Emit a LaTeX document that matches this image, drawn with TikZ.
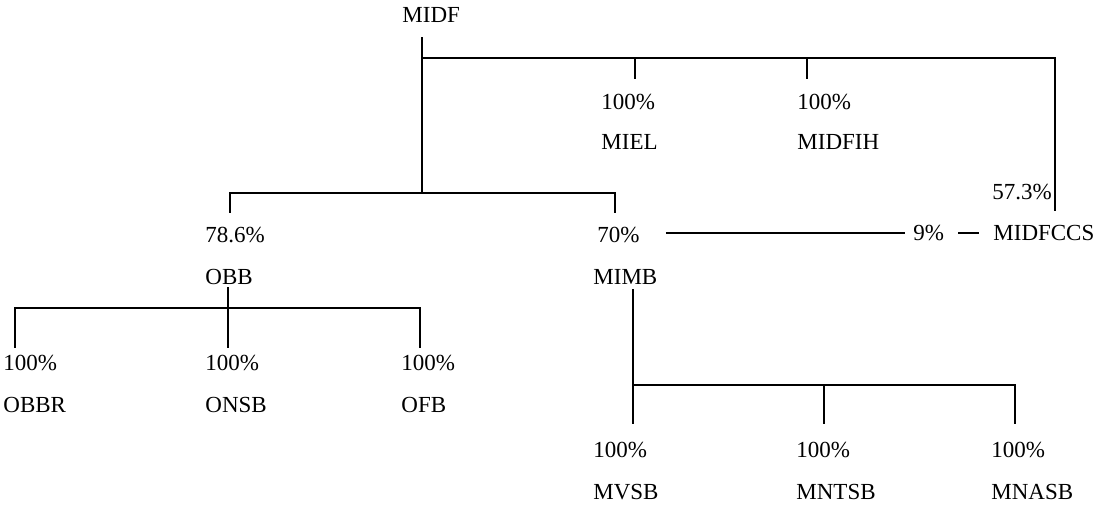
\documentclass[tikz,border=0pt]{standalone}
\usepackage{fontspec}
\setmainfont{Liberation Serif}
\usepackage{tikz}

\begin{document}
\begin{tikzpicture}[
  x=0.5pt, y=-0.5pt,
  lab/.style={inner sep=0pt, anchor=west, font=\fontsize{11.5}{13}\selectfont},
  tree/.style={line width=1.25pt, line cap=rect},
  cross/.style={line width=1.1pt}
]
  \useasboundingbox (0,0) rectangle (1104,505);

  % Holding company and first level
  \node[lab] (midf)   at (402,15)  {MIDF};
  \node[lab] (p-miel) at (601,102) {100\%};
  \node[lab] (miel)   at (601,142) {MIEL};
  \node[lab] (p-fih)  at (797,102) {100\%};
  \node[lab] (fih)    at (797,142) {MIDFIH};
  \node[lab] (p-ccs)  at (992,192) {57.3\%};
  \node[lab] (ccs)    at (993,233) {MIDFCCS};
  \node[lab] (p-x)    at (913,233) {9\%};

  % Banks
  \node[lab] (p-obb)  at (205,235) {78.6\%};
  \node[lab] (obb)    at (205,277) {OBB};
  \node[lab] (p-mimb) at (597,235) {70\%};
  \node[lab] (mimb)   at (593,277) {MIMB};

  % OBB subsidiaries
  \node[lab] (p-obbr) at (3,363)   {100\%};
  \node[lab] (obbr)   at (3,405)   {OBBR};
  \node[lab] (p-onsb) at (205,363) {100\%};
  \node[lab] (onsb)   at (205,405) {ONSB};
  \node[lab] (p-ofb)  at (401,363) {100\%};
  \node[lab] (ofb)    at (401,405) {OFB};

  % MIMB subsidiaries
  \node[lab] (p-mvsb)  at (593,450) {100\%};
  \node[lab] (mvsb)    at (593,492) {MVSB};
  \node[lab] (p-mntsb) at (796,450) {100\%};
  \node[lab] (mntsb)   at (796,492) {MNTSB};
  \node[lab] (p-mnasb) at (991,450) {100\%};
  \node[lab] (mnasb)   at (991,492) {MNASB};

  % Junction points
  \coordinate (midf-a) at (422,38);
  \coordinate (bar1-l) at (422,58);
  \coordinate (bar1-r) at (1055,58);
  \coordinate (ccs-a)  at (1055,210);
  \coordinate (miel-a) at (635,78);
  \coordinate (fih-a)  at (807,78);
  \coordinate (bar2-m) at (422,193);
  \coordinate (obb-a)  at (230,212);
  \coordinate (mimb-a) at (615,212);
  \coordinate (obb-b)  at (228,288);
  \coordinate (bar3-m) at (228,308);
  \coordinate (obbr-a) at (15,347);
  \coordinate (onsb-a) at (228,347);
  \coordinate (ofb-a)  at (420,347);
  \coordinate (mimb-b) at (633,290);
  \coordinate (bar4-l) at (633,385);
  \coordinate (mvsb-a) at (633,423);
  \coordinate (mntsb-a) at (824,423);
  \coordinate (mnasb-a) at (1015,423);

  % MIDF tree
  \draw[tree] (midf-a) -- (bar2-m);
  \draw[tree] (bar1-l) -- (bar1-r) -- (ccs-a);
  \draw[tree] (miel-a) -- (miel-a |- bar1-l);
  \draw[tree] (fih-a) -- (fih-a |- bar1-l);
  \draw[tree] (obb-a) |- (bar2-m) -| (mimb-a);

  % OBB tree
  \draw[tree] (obb-b) -- (onsb-a);
  \draw[tree] (obbr-a) |- (bar3-m) -| (ofb-a);

  % MIMB tree
  \draw[tree] (mimb-b) -- (mvsb-a);
  \draw[tree] (bar4-l) -| (mnasb-a);
  \draw[tree] (mntsb-a) -- (mntsb-a |- bar4-l);

  % Cross holding
  \draw[cross, shorten <=13pt, shorten >=4pt] (p-x.west -| p-mimb.east) -- (p-x.west);
  \draw[cross, shorten <=7pt, shorten >=7pt] (p-x.east) -- (ccs.west);
\end{tikzpicture}
\end{document}
